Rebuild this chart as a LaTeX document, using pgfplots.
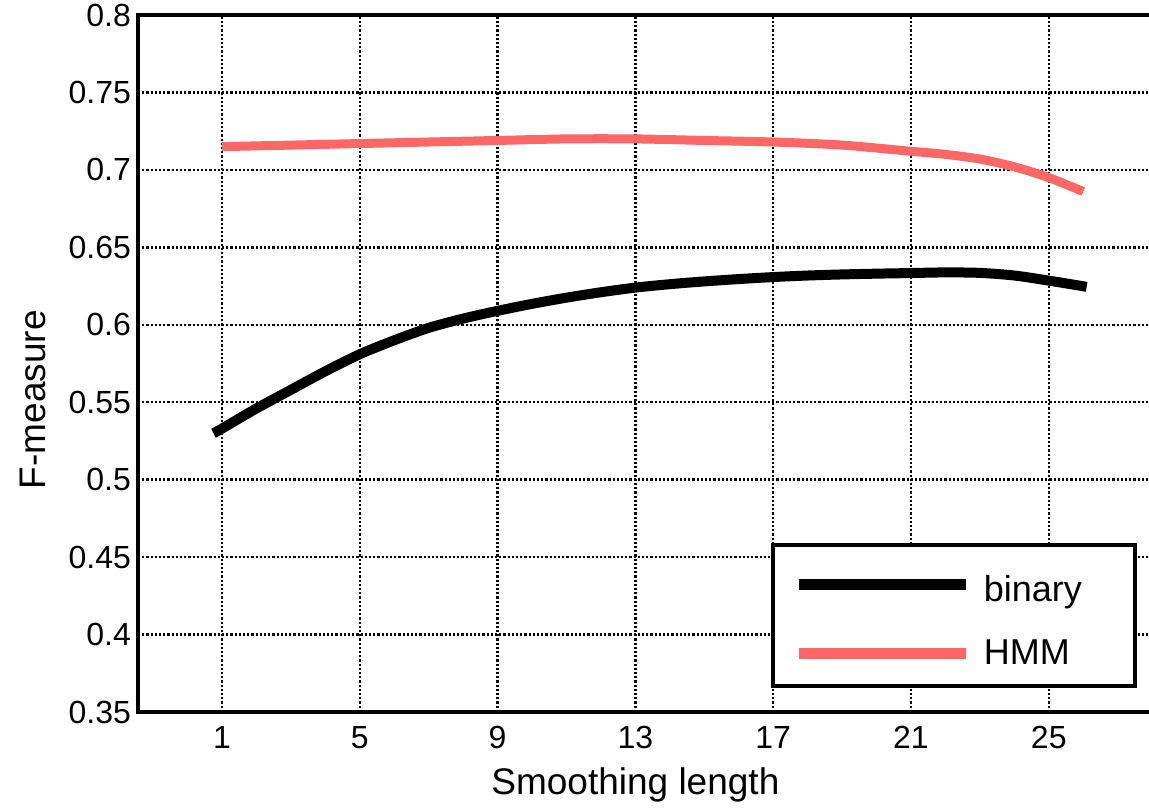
\documentclass[border=0pt]{standalone}
\usepackage{pgfplots}
\pgfplotsset{compat=1.18}
\usepackage{fontspec}
\setmainfont{Liberation Sans}
\definecolor{hmmred}{RGB}{255,102,102}

\pgfplotstableread{
x y
0.75 0.530
1 0.533
2 0.546
3 0.558
4 0.570
5 0.581
6 0.590
7 0.598
8 0.604
9 0.609
10 0.6135
11 0.6175
12 0.621
13 0.624
14 0.6262
15 0.628
16 0.6295
17 0.6308
18 0.6318
19 0.6325
20 0.633
21 0.6334
22 0.6338
23 0.6335
24 0.6318
25 0.6285
26.1 0.6245
}\binarydata

\pgfplotstableread{
x y
1 0.715
3 0.716
5 0.717
7 0.718
9 0.719
11 0.720
13 0.720
15 0.719
17 0.718
19 0.716
21 0.712
22 0.710
23 0.707
24 0.702
25 0.695
26 0.686
}\hmmdata

\begin{document}
\begin{tikzpicture}
\begin{axis}[
  scale only axis,
  width=505.5pt, height=348.5pt,
  xmin=-1.44, xmax=27.91,
  ymin=0.35, ymax=0.8,
  axis x line*=box,
  axis y line*=left,
  axis line style={-, line width=2pt, line cap=rect},
  xtick={1,5,9,13,17,21,25},
  ytick={0.35,0.4,0.45,0.5,0.55,0.6,0.65,0.7,0.75,0.8},
  major tick length=0pt,
  grid=major,
  major grid style={black, line width=1.2pt, dash pattern=on 1.1pt off 1pt},
  /pgf/number format/assume math mode=true,
  ticklabel style={font=\fontsize{16}{19}\selectfont},
  yticklabel style={/pgf/number format/fixed},
  xticklabel style={anchor=base, yshift=-18pt},
  xlabel={Smoothing length},
  ylabel={F-measure},
  label style={font=\fontsize{18.5}{22}\selectfont},
  xlabel style={at={(axis cs:13,0.35)}, anchor=base, yshift=-41pt},
  ylabel style={at={(axis description cs:-0.1039,0.448)}, anchor=center},
  legend style={
    at={(rel axis cs:0.988,0.0344)}, anchor=south east,
    draw=black, line width=2pt,
    font=\fontsize{18}{21}\selectfont,
    inner xsep=10.5pt, inner ysep=7.5pt,
    row sep=13.5pt, column sep=4pt,
  },
  legend cell align=left,
  legend image code/.code={\draw[line width=5.5pt] (0pt,0pt) -- (83.5pt,0pt);},
]
\addplot[black, line width=5pt, smooth, line join=round] table[x=x,y=y] {\binarydata};
\addlegendentry{\makebox[63pt][l]{\rule{0pt}{18.5pt}binary}}
\addplot[hmmred, line width=4.5pt, smooth, line join=round] table[x=x,y=y] {\hmmdata};
\addlegendentry{\makebox[63pt][l]{HMM}}
\coordinate (SW) at (rel axis cs:0,0);
\coordinate (NE) at (rel axis cs:1,1);
\end{axis}
\pgfresetboundingbox
\path ([shift={(-69pt,-48pt)}]SW) rectangle ([shift={(0pt,7.5pt)}]NE);
\end{tikzpicture}
\end{document}
